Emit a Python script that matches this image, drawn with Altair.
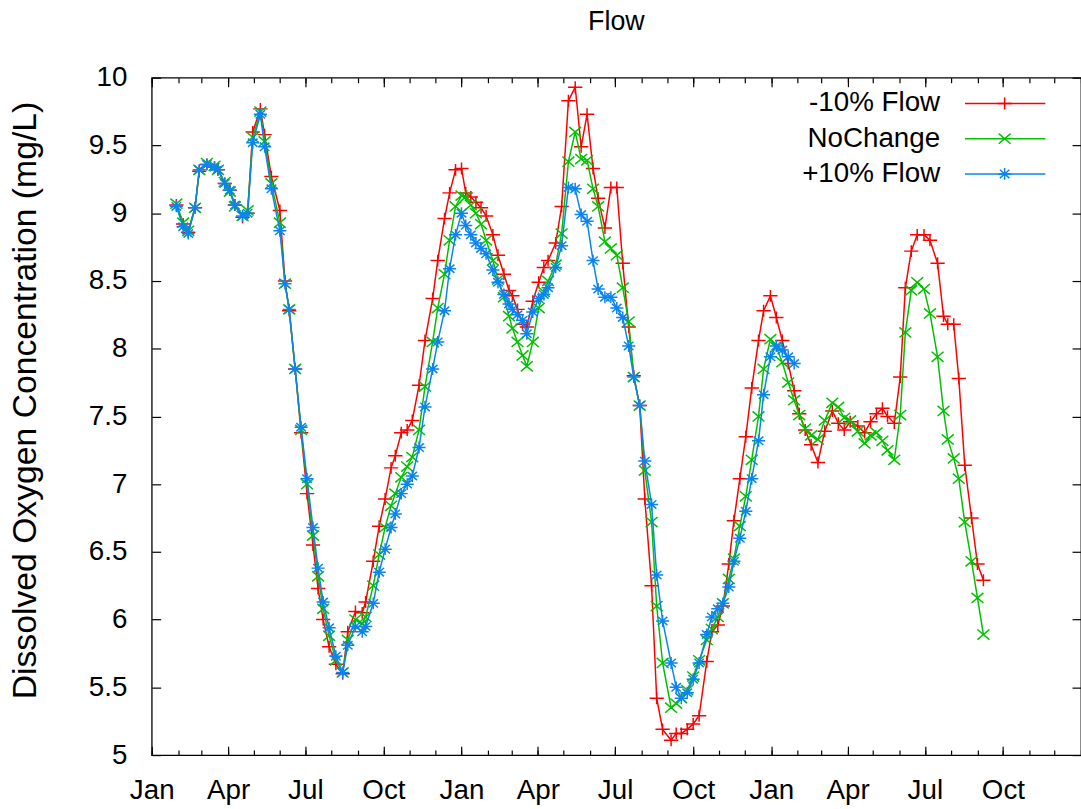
import altair as alt
import pandas as pd

# Sampling dates shared by the three scenarios
dates = [
    "2009-01-30", "2009-02-07", "2009-02-13", "2009-02-21", "2009-02-26", "2009-03-07", "2009-03-16", "2009-03-20", "2009-03-28", "2009-04-03",
    "2009-04-09", "2009-04-18", "2009-04-24", "2009-04-30", "2009-05-09", "2009-05-14", "2009-05-22", "2009-06-01", "2009-06-07", "2009-06-12",
    "2009-06-19", "2009-06-26", "2009-07-03", "2009-07-10", "2009-07-16", "2009-07-22", "2009-07-29", "2009-08-06", "2009-08-14", "2009-08-20",
    "2009-08-29", "2009-09-06", "2009-09-10", "2009-09-19", "2009-09-26", "2009-10-03", "2009-10-10", "2009-10-15", "2009-10-22", "2009-10-29",
    "2009-11-04", "2009-11-12", "2009-11-19", "2009-11-28", "2009-12-04", "2009-12-12", "2009-12-18", "2009-12-25", "2010-01-01", "2010-01-06",
    "2010-01-12", "2010-01-18", "2010-01-24", "2010-01-30", "2010-02-07", "2010-02-13", "2010-02-20", "2010-02-26", "2010-03-02", "2010-03-08",
    "2010-03-14", "2010-03-19", "2010-03-26", "2010-04-02", "2010-04-08", "2010-04-13", "2010-04-22", "2010-04-29", "2010-05-07", "2010-05-15",
    "2010-05-22", "2010-05-29", "2010-06-05", "2010-06-11", "2010-06-19", "2010-06-26", "2010-07-03", "2010-07-10", "2010-07-17", "2010-07-23",
    "2010-07-30", "2010-08-05", "2010-08-13", "2010-08-19", "2010-08-26", "2010-09-05", "2010-09-11", "2010-09-17", "2010-09-24", "2010-10-01",
    "2010-10-08", "2010-10-17", "2010-10-23", "2010-10-30", "2010-11-05", "2010-11-12", "2010-11-18", "2010-11-25", "2010-12-02", "2010-12-09",
    "2010-12-17", "2010-12-23", "2010-12-31", "2011-01-07", "2011-01-14", "2011-01-21", "2011-01-28", "2011-02-03", "2011-02-10", "2011-02-17",
    "2011-02-25", "2011-03-05", "2011-03-14", "2011-03-21", "2011-03-28", "2011-04-04", "2011-04-13", "2011-04-21", "2011-04-28", "2011-05-05",
    "2011-05-12", "2011-05-18", "2011-05-26", "2011-06-02", "2011-06-08", "2011-06-15", "2011-06-22", "2011-06-30", "2011-07-07", "2011-07-16",
    "2011-07-23", "2011-07-28", "2011-08-04", "2011-08-10", "2011-08-17", "2011-08-25", "2011-09-01", "2011-09-08",
]

# Dissolved oxygen (mg/L), -10% flow scenario
minus10 = [
    9.06, 8.92, 8.86, 9.04, 9.31, 9.36, 9.34, 9.32, 9.22, 9.17,
    9.06, 8.97, 9.00, 9.60, 9.77, 9.58, 9.27, 9.02, 8.50, 8.28,
    7.85, 7.38, 6.93, 6.55, 6.23, 6.00, 5.80, 5.67, 5.60, 5.91,
    6.06, 6.05, 6.13, 6.43, 6.69, 6.89, 7.12, 7.21, 7.38, 7.40,
    7.47, 7.73, 8.06, 8.37, 8.65, 8.96, 9.15, 9.32, 9.33, 9.15,
    9.12, 9.08, 9.04, 8.98, 8.84, 8.69, 8.55, 8.43, 8.39, 8.29,
    8.18, 8.16, 8.35, 8.49, 8.60, 8.65, 8.78, 9.05, 9.83, 9.93,
    9.49, 9.73, 9.33, 9.11, 8.89, 9.19, 9.19, 8.63, 8.16, 7.80,
    7.58, 6.89, 6.25, 5.42, 5.19, 5.11, 5.16, 5.16, 5.19, 5.23,
    5.29, 5.69, 5.91, 5.96, 6.10, 6.41, 6.73, 7.04, 7.35, 7.71,
    8.06, 8.28, 8.39, 8.23, 8.06, 7.89, 7.69, 7.52, 7.40, 7.29,
    7.16, 7.39, 7.54, 7.45, 7.40, 7.46, 7.43, 7.38, 7.46, 7.52,
    7.56, 7.50, 7.45, 7.79, 8.45, 8.72, 8.84, 8.84, 8.80, 8.63,
    8.24, 8.18, 8.18, 7.78, 7.14, 6.75, 6.41, 6.29,
]

# Dissolved oxygen (mg/L), unchanged flow
nochange = [
    9.07, 8.93, 8.87, 9.04, 9.32, 9.37, 9.35, 9.32, 9.23, 9.16,
    9.05, 8.98, 9.02, 9.56, 9.75, 9.53, 9.22, 8.93, 8.48, 8.29,
    7.85, 7.40, 7.00, 6.62, 6.32, 6.08, 5.88, 5.70, 5.61, 5.85,
    6.00, 5.97, 6.02, 6.25, 6.48, 6.68, 6.84, 6.93, 7.05, 7.13,
    7.20, 7.40, 7.72, 8.05, 8.30, 8.55, 8.80, 9.05, 9.13, 9.12,
    9.06, 9.00, 8.92, 8.80, 8.65, 8.51, 8.38, 8.24, 8.15, 8.05,
    7.95, 7.87, 8.05, 8.30, 8.42, 8.50, 8.62, 8.85, 9.38, 9.60,
    9.40, 9.39, 9.18, 9.05, 8.79, 8.74, 8.69, 8.45, 8.20, 7.79,
    7.58, 7.10, 6.72, 6.10, 5.68, 5.35, 5.38, 5.42, 5.48, 5.58,
    5.70, 5.85, 5.93, 6.02, 6.12, 6.30, 6.45, 6.69, 6.91, 7.18,
    7.50, 7.85, 8.07, 8.01, 7.90, 7.75, 7.62, 7.51, 7.41, 7.36,
    7.33, 7.47, 7.60, 7.57, 7.49, 7.47, 7.39, 7.30, 7.36, 7.38,
    7.32, 7.25, 7.18, 7.51, 8.12, 8.43, 8.49, 8.44, 8.26, 7.94,
    7.54, 7.33, 7.19, 7.04, 6.72, 6.43, 6.16, 5.89,
]

# Dissolved oxygen (mg/L), +10% flow scenario (record ends in January 2011)
plus10 = [
    9.05, 8.90, 8.85, 9.04, 9.32, 9.36, 9.34, 9.32, 9.22, 9.17,
    9.06, 8.98, 9.00, 9.52, 9.73, 9.49, 9.18, 8.87, 8.48, 8.29,
    7.85, 7.42, 7.04, 6.68, 6.38, 6.13, 5.94, 5.73, 5.61, 5.81,
    5.95, 5.91, 5.95, 6.12, 6.35, 6.52, 6.68, 6.78, 6.93, 7.00,
    7.06, 7.27, 7.57, 7.85, 8.05, 8.28, 8.59, 8.84, 9.00, 8.91,
    8.84, 8.78, 8.74, 8.70, 8.58, 8.49, 8.40, 8.33, 8.29, 8.25,
    8.21, 8.11, 8.27, 8.37, 8.40, 8.45, 8.60, 8.76, 9.19, 9.18,
    8.99, 8.94, 8.65, 8.44, 8.38, 8.38, 8.30, 8.23, 8.02, 7.79,
    7.58, 7.17, 6.85, 6.33, 5.99, 5.68, 5.50, 5.42, 5.46, 5.56,
    5.68, 5.89, 6.02, 6.08, 6.12, 6.24, 6.43, 6.60, 6.80, 7.04,
    7.32, 7.66, 7.94, 8.02, 7.99, 7.94, 7.89,
]

series_names = ["-10% Flow", "NoChange", "+10% Flow"]
series_values = [minus10, nochange, plus10]
series_colors = ["#ff0000", "#00c000", "#0a84f0"]
# gnuplot-like point types: plus, cross, star
series_shapes = [
    "M-1.2,0L1.2,0M0,-1L0,1",
    "M-1,-0.85L1,0.85M-1,0.85L1,-0.85",
    "M-1.1,0L1.1,0M0,-1L0,1M-0.8,-0.7L0.8,0.7M-0.8,0.7L0.8,-0.7",
]

quarter_ticks = [
    "2009-01-01", "2009-04-01", "2009-07-01", "2009-10-01",
    "2010-01-01", "2010-04-01", "2010-07-01", "2010-10-01",
    "2011-01-01", "2011-04-01", "2011-07-01", "2011-10-01",
]
month_ticks = [f"{y}-{m:02d}-01" for y in (2009, 2010, 2011) for m in range(1, 13)] + ["2012-01-01"]
y_ticks = [5, 5.5, 6, 6.5, 7, 7.5, 8, 8.5, 9, 9.5, 10]

FONT = "Liberation Sans"
FS = 28
W, H = 937, 683
MARK_SIZE = 144
STROKE = 1.5


def dt(s):
    y, m, d = (int(p) for p in s.split("-"))
    return alt.DateTime(year=y, month=m, date=d, utc=True)


rows = []
for name, vals in zip(series_names, series_values):
    for d, v in zip(dates, vals):
        if v is not None:
            rows.append({"date": d, "value": v, "series": name})
df = pd.DataFrame(rows)

xscale = alt.Scale(type="utc", domain=[dt("2009-01-01"), dt("2012-01-01")], nice=False)
yscale = alt.Scale(domain=[5, 10], nice=False, zero=False)

base = alt.Chart(df)


def tick_axis(orient, values, size):
    return alt.Axis(
        orient=orient, values=values, tickSize=size, offset=-size, labels=False,
        domain=False, grid=False, ticks=True, tickColor="#000000", tickWidth=1.2, title=None,
    )


# Inward-pointing frame ticks on all four sides
tick_layers = []
for orient_x, orient_y in (("bottom", "left"), ("top", "right")):
    tick_layers.append(
        base.mark_point(opacity=0).encode(
            x=alt.X("date:T", scale=xscale, axis=tick_axis(orient_x, [dt(s) for s in quarter_ticks], 9)),
            y=alt.Y("value:Q", scale=yscale, axis=tick_axis(orient_y, y_ticks, 9)),
        )
    )
    tick_layers.append(
        base.mark_point(opacity=0).encode(
            x=alt.X("date:T", scale=xscale, axis=tick_axis(orient_x, [dt(s) for s in month_ticks], 5)),
            y=alt.Y("value:Q", scale=yscale, axis=None),
        )
    )

# Labelled axes
label_layer = base.mark_point(opacity=0).encode(
    x=alt.X(
        "date:T", scale=xscale,
        axis=alt.Axis(
            values=[dt(s) for s in quarter_ticks], format="%b", ticks=False, tickSize=0, domain=False,
            grid=False, labelFont=FONT, labelFontSize=FS, labelColor="#000000", labelPadding=22,
            labelFlush=False, labelOverlap=False, title=None,
        ),
    ),
    y=alt.Y(
        "value:Q", scale=yscale,
        axis=alt.Axis(
            values=y_ticks, format="~g", ticks=False, tickSize=0, domain=False, grid=False,
            labelFont=FONT, labelFontSize=FS, labelColor="#000000", labelPadding=25,
            labelOverlap=False, title="Dissolved Oxygen Concentration (mg/L)",
            titleFont=FONT, titleFontSize=34, titleFontWeight="normal", titleColor="#000000",
            titleX=-127, titleY=325, titleBaseline="middle", titleAngle=270,
        ),
    ),
)

series_layers = []
for name, color, shape in zip(series_names, series_colors, series_shapes):
    sel = base.transform_filter(alt.datum.series == name)
    enc = dict(
        x=alt.X("date:T", scale=xscale, axis=None),
        y=alt.Y("value:Q", scale=yscale, axis=None),
    )
    series_layers.append(sel.mark_line(color=color, strokeWidth=STROKE).encode(**enc))
    series_layers.append(
        sel.mark_point(shape=shape, filled=False, color=color, size=MARK_SIZE, strokeWidth=STROKE, opacity=1).encode(**enc)
    )

# Key in the upper right corner: label, line sample, point sample
key_layers = []
for i, (name, color, shape) in enumerate(zip(series_names, series_colors, series_shapes)):
    ky = 26 + 35.5 * i
    key_df = pd.DataFrame({"label": [name]})
    kc = alt.Chart(key_df)
    key_layers.append(
        kc.mark_text(align="right", baseline="middle", font=FONT, fontSize=FS, color="#000000").encode(
            x=alt.value(795), y=alt.value(ky), text="label:N"
        )
    )
    key_layers.append(
        kc.mark_rule(color=color, strokeWidth=STROKE).encode(x=alt.value(820), x2=alt.value(901), y=alt.value(ky))
    )
    key_layers.append(
        kc.mark_point(shape=shape, filled=False, color=color, size=MARK_SIZE, strokeWidth=STROKE, opacity=1).encode(
            x=alt.value(860), y=alt.value(ky)
        )
    )

chart = (
    alt.layer(*tick_layers, label_layer, *series_layers, *key_layers)
    .resolve_axis(x="independent", y="independent")
    .properties(
        width=W,
        height=H,
        title=alt.TitleParams(
            "Flow", font=FONT, fontSize=27, fontWeight="normal", color="#000000", anchor="middle", offset=28
        ),
        autosize=alt.AutoSizeParams(type="none"),
        padding={"left": 153, "top": 75, "right": 0, "bottom": 51},
        background="#ffffff",
    )
    .configure_view(stroke="#000000", strokeWidth=1.3)
)

chart.save("out.html", embed_options={"renderer": "svg", "actions": False})
